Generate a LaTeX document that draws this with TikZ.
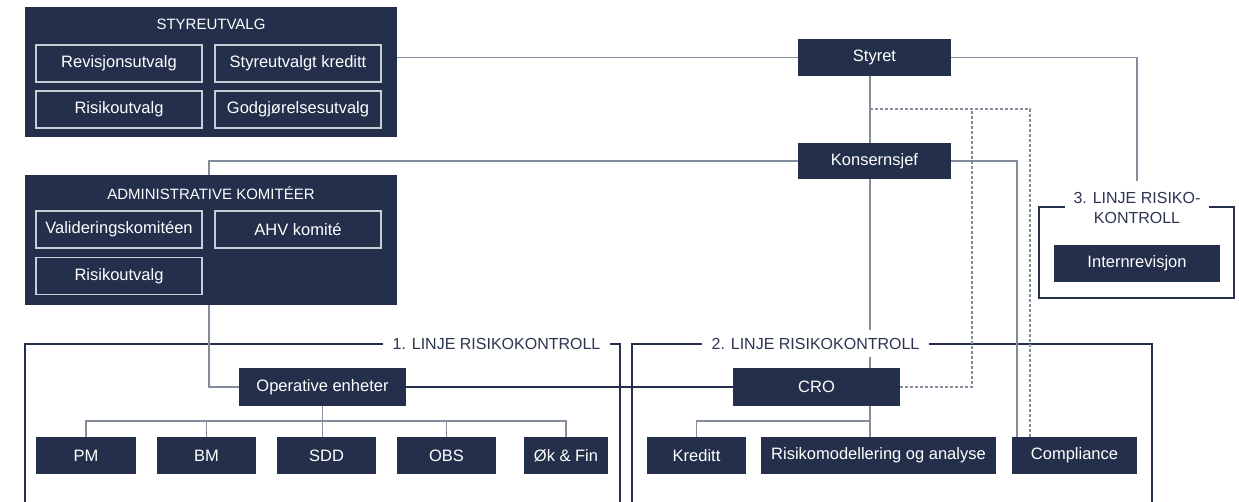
\documentclass[tikz,border=0pt]{standalone}
\usepackage{fontspec}
\setmainfont{Liberation Sans}
\usetikzlibrary{calc}
\definecolor{navy}{HTML}{232F4B}
\definecolor{conn}{HTML}{858C9B}
\definecolor{lbl}{HTML}{2B3550}
\definecolor{inb}{HTML}{C9CED6}
\pgfdeclarelayer{bg}
\pgfsetlayers{bg,main}
\tikzset{
  darkbox/.style={fill=navy, text=white, inner sep=0pt, minimum height=37pt, font=\fontsize{16.5}{19}\selectfont},
  innerbox/.style={draw=inb, line width=1.1pt, text=white, inner sep=0pt, minimum width=166pt, minimum height=37pt, font=\fontsize{16.5}{19}\selectfont},
  container/.style={fill=navy, inner sep=0pt, minimum width=372pt, minimum height=130pt},
  ctitle/.style={text=white, inner sep=0pt, font=\fontsize{15}{18}\selectfont},
  frame/.style={draw=navy, line width=2.6pt},
  flabel/.style={fill=white, text=lbl, inner sep=0pt, minimum width=227pt, minimum height=27pt, font=\fontsize{16}{19}\selectfont},
  cline/.style={draw=conn, line width=1.3pt},
  dline/.style={draw=conn, line width=1.3pt, dash pattern=on 3pt off 2pt},
}
\begin{document}
\begin{tikzpicture}[x=1pt,y=-1pt]
\useasboundingbox (0,0) rectangle (1239,502);
% containers
\node[container] (styreutvalg) at (211,72) {};
\node[ctitle] (styretitle) at (211,24) {STYREUTVALG};
\node[innerbox] (rev) at (119,63.5) {Revisjonsutvalg};
\node[innerbox] (stk) at (298,63.5) {Styreutvalgt kreditt};
\node[innerbox] (ris1) at (119,109.5) {Risikoutvalg};
\node[innerbox] (god) at (298,109.5) {Godgjørelsesutvalg};

\node[container] (admin) at (211,240) {};
\node[ctitle] (admintitle) at (211,193) {ADMINISTRATIVE KOMITÉER};
\node[innerbox] (val) at (119,229.5) {Valideringskomitéen};
\node[innerbox] (ahv) at (298,229.5) {AHV komité};
\node[innerbox] (ris2) at (119,276) {Risikoutvalg};

% top chain
\node[darkbox, minimum width=153pt] (styret) at (874.5,57.5) {Styret};
\node[darkbox, minimum width=153pt, minimum height=36pt] (kons) at (874.5,161) {Konsernsjef};

% line 3
\node[fill=white, text=lbl, inner sep=0pt, minimum width=144pt, minimum height=54pt, align=center, font=\fontsize{16}{20}\selectfont] (l3) at (1137,208) {3. LINJE RISIKO-\\KONTROLL};
\node[darkbox, minimum width=166pt] (intern) at (1137,263.5) {Internrevisjon};

% line 1 / 2 labels
\node[flabel] (l1) at (496.5,344) {1. LINJE RISIKOKONTROLL};
\node[flabel] (l2) at (815.5,344) {2. LINJE RISIKOKONTROLL};

\node[darkbox, minimum width=167pt, minimum height=38pt] (oper) at (322.5,387) {Operative enheter};
\node[darkbox, minimum width=167pt, minimum height=38pt] (cro) at (816.5,387) {CRO};

\node[darkbox, minimum width=100pt] (pm) at (86,455.5) {PM};
\node[darkbox, minimum width=99pt] (bm) at (206.5,455.5) {BM};
\node[darkbox, minimum width=99pt] (sdd) at (326.5,455.5) {SDD};
\node[darkbox, minimum width=99pt] (obs) at (446.5,455.5) {OBS};
\node[darkbox, minimum width=84pt] (okf) at (566,455.5) {Øk \& Fin};

\node[darkbox, minimum width=99pt] (kred) at (696.5,455.5) {Kreditt};
\node[darkbox, minimum width=235pt] (rma) at (878.5,455.5) {Risikomodellering og analyse};
\node[darkbox, minimum width=125pt] (comp) at (1074.5,455.5) {Compliance};

% guide coordinates
\coordinate (spine) at (870,0);
\coordinate (ax) at (209,0);
\coordinate (kx) at (1017,0);
\coordinate (dx1) at (972,109);
\coordinate (dx2) at (1030,109);
\coordinate (dy) at (870,109);
\coordinate (obus) at (322.5,421);
\coordinate (cbus) at (870,421);

\begin{pgfonlayer}{bg}
% frames
\draw[frame] (25,510) -- (25,344) -- (620,344) -- (620,510);
\draw[frame] (632,510) -- (632,344) -- (1152,344) -- (1152,510);
\draw[frame] (1039,207) rectangle (1234,298);
% connectors
\draw[cline] (styreutvalg.east |- styret.west) -- (styret.west);
\draw[cline] (styret.south -| spine) -- (kons.north -| spine);
\draw[cline] (kons.south -| spine) -- (cro.north -| spine);
\draw[cline] (styret.east) -| (l3.north);
\draw[cline] (kons.east) -| (comp.north -| kx);
\draw[cline] (kons.west) -| (admin.north -| ax);
\draw[cline] (admin.south -| ax) |- (oper.west);
\draw[draw=navy, line width=1.3pt] (oper.east) -- (cro.west);
\draw[dline] (dy) -- (dx2) -- (comp.north -| dx2);
\draw[dline] (cro.east) -| (dx1);
% operative bus
\draw[cline] (oper.south) -- (oper.south |- sdd.north);
\draw[cline] (pm.north) |- (obus) -| (okf.north);
\draw[cline] (bm.north) -- (bm.north |- obus);
\draw[cline] (obs.north) -- (obs.north |- obus);
% CRO bus
\draw[cline] (cro.south -| spine) -- (rma.north -| spine);
\draw[cline] (kred.north) |- (cbus);
\end{pgfonlayer}
\end{tikzpicture}
\end{document}
